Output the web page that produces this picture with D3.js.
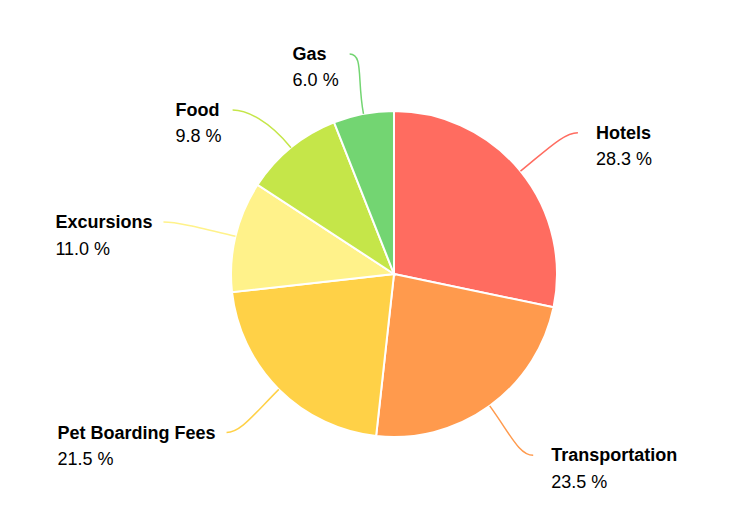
<!DOCTYPE html>
<html><head><meta charset="utf-8">
<script src="https://cdn.jsdelivr.net/npm/d3@7"></script>
<style>body{margin:0;background:#fff;}svg{display:block;font-family:"Liberation Sans",Arial,sans-serif;}</style>
</head><body><svg id="c" width="750" height="507"></svg>
<script>
const categories = ["Hotels","Transportation","Pet Boarding Fees","Excursions","Food","Gas"];
const values = [28.3, 23.5, 21.5, 11.0, 9.8, 6.0];
const colors = ["#ff6c60","#ff9a4d","#ffd147","#fff28a","#c5e649","#73d572"];

const data = categories.map((c,i)=>({name:c,value:values[i],color:colors[i]}));
const svg = d3.select("#c");
const cx = 394, cy = 274, R = 163, LA = 237, LB = 224, MINGAP = 56;
const g = svg.append("g").attr("transform",`translate(${cx},${cy})`);
const pie = d3.pie().sort(null).value(d=>d.value);
const arcs = pie(data);
const arc = d3.arc().innerRadius(0).outerRadius(R);
g.selectAll("path.slice").data(arcs).join("path").attr("class","slice")
  .attr("d",arc).attr("fill",d=>d.data.color).attr("stroke","#fff").attr("stroke-width",2);

const pt = (a,r)=>[r*Math.sin(a), -r*Math.cos(a)];
// label anchor positions on an ellipse, then push apart vertically per side
const labels = arcs.map(d=>{
  const a = (d.startAngle+d.endAngle)/2;
  return {d, a, right: Math.sin(a) > 0, x: LA*Math.sin(a), y: -LB*Math.cos(a)};
});
[true,false].forEach(side=>{
  const ls = labels.filter(l=>l.right===side).sort((p,q)=>p.y-q.y);
  for(let i=1;i<ls.length;i++){
    if(ls[i].y - ls[i-1].y < MINGAP){
      ls[i].y = ls[i-1].y + MINGAP;
      const c = Math.max(-1,Math.min(1,-ls[i].y/LB));
      ls[i].x = (side?1:-1)*LA*Math.sqrt(1-c*c);
    }
  }
});
labels.forEach(l=>{
  const d = l.d, a = l.a;
  const s = pt(a,R), c1 = pt(a,R+35), e = [l.x,l.y];
  const c2 = [e[0] + (l.right?-14:14), e[1]];
  const p = d3.path(); p.moveTo(s[0],s[1]); p.bezierCurveTo(c1[0],c1[1],c2[0],c2[1],e[0],e[1]);
  g.append("path").attr("d",p.toString()).attr("fill","none").attr("stroke",d.data.color).attr("stroke-width",1.5);
  const t = g.append("text").attr("font-size",18).attr("fill","#000");
  const t1 = t.append("tspan").attr("font-weight","bold").text(d.data.name);
  const t2 = t.append("tspan").text(d3.format(".1f")(d.data.value)+" %");
  const w = Math.max(t1.node().getComputedTextLength(), t2.node().getComputedTextLength());
  const x = l.right ? e[0]+18 : e[0]-11-w;
  t1.attr("x",x).attr("y",e[1]+6);
  t2.attr("x",x).attr("y",e[1]+32.5);
});
</script></body></html>
